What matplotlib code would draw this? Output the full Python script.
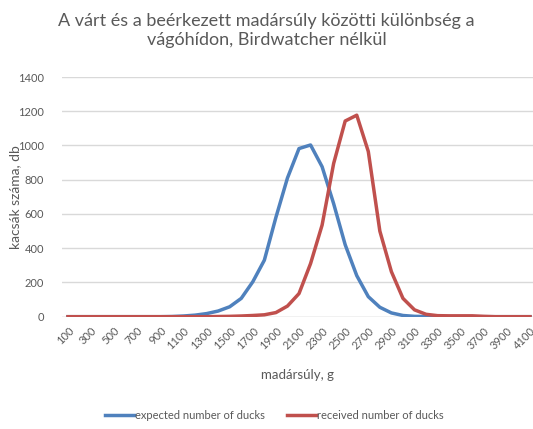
import numpy as np
import matplotlib.pyplot as plt

# bird weight categories, g
weights = list(range(100, 4200, 100))

# expected number of ducks per weight class
expected = [0, 0, 0, 0, 0, 0, 0, 0, 0,
            1, 4, 9, 18, 33, 58, 107, 204, 330, 580,
            810, 982, 1003, 876, 660, 420, 240, 117, 55, 22,
            7, 2, 1,
            0, 0, 0, 0, 0, 0, 0, 0, 0]

# received number of ducks per weight class
received = [0, 0, 0, 0, 0, 0, 0, 0, 0, 0, 0, 0, 0,
            1, 2, 4, 7, 11, 24, 62, 135, 310, 535,
            895, 1143, 1177, 965, 500, 263, 107, 40, 14, 6,
            5, 5, 5, 2,
            0, 0, 0, 0]

xticklabels = [str(w) for w in weights[::2]]
yticks = [0, 200, 400, 600, 800, 1000, 1200, 1400]

title = "A várt és a beérkezett madársúly közötti különbség a\nvágóhídon, Birdwatcher nélkül"

plt.rcParams['font.family'] = ['Lato', 'DejaVu Sans']
grey = "#595959"

fig = plt.figure(figsize=(5.33, 4.29), dpi=100)
ax = fig.add_axes([62/533, 0.2618, 1 - 62/533, 0.8205 - 0.2618])

x = np.arange(len(weights))
ax.plot(x, expected, color="#4f81bd", lw=2.5, label="expected number of ducks",
        solid_joinstyle="round")
ax.plot(x, received, color="#c0504d", lw=2.5, label="received number of ducks",
        solid_joinstyle="round")

ax.set_xlim(-0.52, 40.26)
ax.set_ylim(0, 1400)
ax.set_yticks(yticks)
ax.set_xticks(x[::2])
ax.set_xticklabels(xticklabels, rotation=45, ha="right", va="top",
                   rotation_mode="anchor")
ax.tick_params(axis="both", length=0, colors=grey, labelsize=8)
ax.tick_params(axis="x", pad=6)
ax.tick_params(axis="y", pad=13)

ax.grid(axis="y", color="#d9d9d9", lw=1)
ax.set_axisbelow(True)
for s in ax.spines.values():
    s.set_visible(False)
ax.axhline(0, color="#d9d9d9", lw=1, zorder=0)

ax.set_ylabel("kacsák száma, db", color=grey, fontsize=10)
ax.yaxis.set_label_coords(-0.087, 0.5)
ax.set_xlabel("madársúly, g", color=grey, fontsize=9.5, labelpad=13)

fig.text(0.5, 0.97, title, ha="center", va="top", fontsize=13, color=grey,
         linespacing=1.25)

fig.legend(loc="center", bbox_to_anchor=(0.515, 0.032), ncol=2, frameon=False,
           fontsize=8, labelcolor=grey, handlelength=2.6, handletextpad=0.1,
           columnspacing=2.0)

fig.savefig("out.png", dpi=100)
